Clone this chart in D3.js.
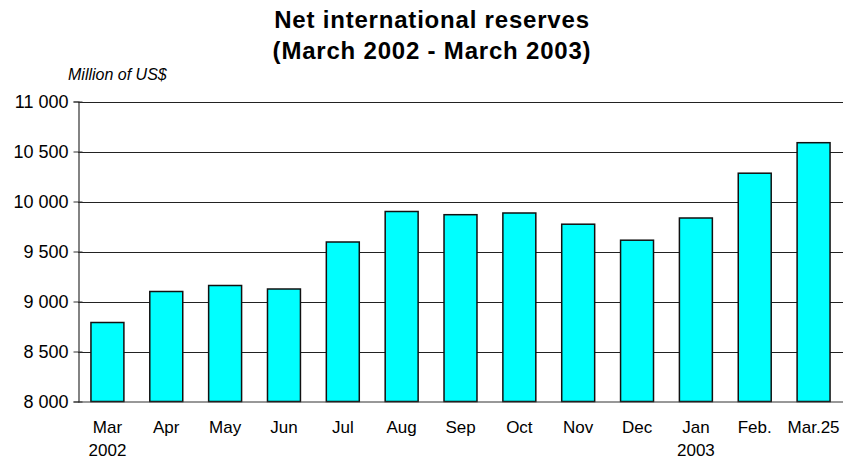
<!DOCTYPE html>
<html>
<head>
<meta charset="utf-8">
<script src="https://cdn.jsdelivr.net/npm/d3@7"></script>
<style>
  body { margin: 0; background: #fff; }
  text { font-family: "Liberation Sans", Arial, sans-serif; fill: #000; }
</style>
</head>
<body>
<svg id="chart"></svg>
<script>
// chart data
var months = ['Mar', 'Apr', 'May', 'Jun', 'Jul', 'Aug', 'Sep', 'Oct', 'Nov', 'Dec', 'Jan', 'Feb.', 'Mar.25'];
var years = ['2002', '', '', '', '', '', '', '', '', '', '2003', '', ''];
var reserves = [8790, 9100, 9160, 9125, 9595, 9900, 9868, 9885, 9773, 9613, 9835, 10283, 10588];
var yTicks = [8000, 8500, 9000, 9500, 10000, 10500, 11000];

var width = 844, height = 461;
var plotLeft = 78, plotRight = 843, plotTop = 101.5, plotBottom = 401.5;

var svg = d3.select('#chart')
	.attr('width', width)
	.attr('height', height);

// scales
var xScale = d3.scaleBand()
	.domain(months)
	.range([plotLeft, plotRight])
	.paddingInner(0.44)
	.paddingOuter(0.22);

var yScale = d3.scaleLinear()
	.domain([8000, 11000])
	.range([plotBottom, plotTop]);

var fmt = function(d) { return d3.format(',')(d).replace(',', ' '); };

// grid lines
svg.append('g')
	.selectAll('line').data(yTicks.slice(1))
	.enter().append('line')
	.attr('x1', plotLeft).attr('x2', plotRight)
	.attr('y1', function(d) { return Math.round(yScale(d)) + 0.5; })
	.attr('y2', function(d) { return Math.round(yScale(d)) + 0.5; })
	.attr('stroke', '#222')
	.attr('stroke-width', 1);

// y axis, ticks cross the axis line
var yAxis = d3.axisLeft(yScale)
	.tickValues(yTicks)
	.tickSize(5)
	.tickPadding(5)
	.tickFormat(fmt);

var gy = svg.append('g')
	.attr('transform', 'translate(' + (plotLeft + 0.5) + ',0)')
	.call(yAxis);
gy.select('.domain').attr('stroke', '#333').attr('stroke-width', 1.2);
gy.selectAll('.tick line').attr('stroke', '#333').attr('x1', 4);
gy.selectAll('.tick text')
	.style('font-size', '18px')
	.style('font-family', '"Liberation Sans", Arial, sans-serif')
	.attr('fill', '#000');

// bars
svg.append('g')
	.selectAll('rect').data(reserves)
	.enter().append('rect')
	.attr('x', function(d, i) { return xScale(months[i]); })
	.attr('width', xScale.bandwidth())
	.attr('y', function(d) { return yScale(d); })
	.attr('height', function(d) { return plotBottom - yScale(d); })
	.attr('fill', '#00ffff')
	.attr('stroke', '#111')
	.attr('stroke-width', 1.5);

// x axis line
svg.append('line')
	.attr('x1', plotLeft).attr('x2', plotRight)
	.attr('y1', plotBottom + 0.5).attr('y2', plotBottom + 0.5)
	.attr('stroke', '#333')
	.attr('stroke-width', 1.2);

// x labels
var xl = svg.append('g').selectAll('g').data(months)
	.enter().append('g')
	.attr('transform', function(d) { return 'translate(' + (xScale(d) + xScale.bandwidth() / 2) + ',0)'; });

xl.append('text')
	.attr('y', 433)
	.attr('text-anchor', 'middle')
	.style('font-size', '17px')
	.text(function(d) { return d; });

xl.append('text')
	.attr('y', 456)
	.attr('text-anchor', 'middle')
	.style('font-size', '17px')
	.text(function(d, i) { return years[i]; });

// titles
svg.append('text')
	.attr('x', 432).attr('y', 28)
	.attr('text-anchor', 'middle')
	.style('font-size', '24px')
	.style('font-weight', 'bold')
	.style('letter-spacing', '0.8px')
	.text('Net international reserves');

svg.append('text')
	.attr('x', 432).attr('y', 59)
	.attr('text-anchor', 'middle')
	.style('font-size', '24px')
	.style('font-weight', 'bold')
	.style('letter-spacing', '0.8px')
	.text('(March 2002 - March 2003)');

svg.append('text')
	.attr('x', 68).attr('y', 80)
	.style('font-size', '16px')
	.style('font-style', 'italic')
	.text('Million of US$');
</script>
</body>
</html>
